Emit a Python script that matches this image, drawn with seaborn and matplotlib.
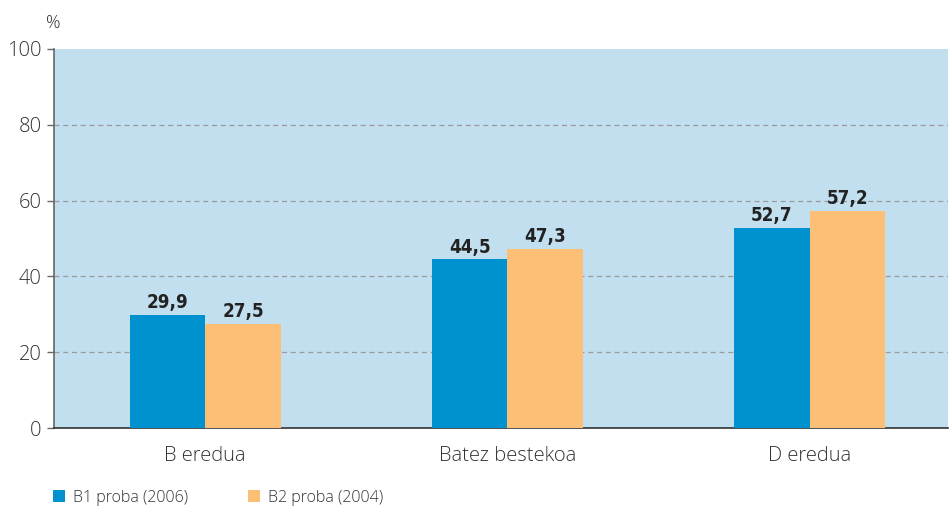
import pandas as pd
import seaborn as sns
import matplotlib.pyplot as plt
from matplotlib.patches import Patch
from matplotlib.ticker import FixedLocator

# --- Datuak ---
kategoriak = ["B eredua", "Batez bestekoa", "D eredua"]
b1_2006 = [29.9, 44.5, 52.7]
b2_2004 = [27.5, 47.3, 57.2]
serieak = ["B1 proba (2006)", "B2 proba (2004)"]
y_ticks = [0, 20, 40, 60, 80, 100]

df = pd.DataFrame({
    "kategoria": kategoriak * 2,
    "proba": [serieak[0]] * 3 + [serieak[1]] * 3,
    "balioa": b1_2006 + b2_2004,
})

sns.set_theme(style="white")
plt.rcParams['font.family'] = ['Open Sans', 'DejaVu Sans']

kolore = {serieak[0]: "#0092CF", serieak[1]: "#FDBE76"}

fig = plt.figure(figsize=(9.51, 5.07), dpi=100)
ax = fig.add_axes([0.0568, 0.1558, 0.94, 0.7476])
ax.set_facecolor("#C2DFF0")

sns.barplot(data=df, x="kategoria", y="balioa", hue="proba", palette=kolore,
            width=0.5, saturation=1, ax=ax, legend=False, zorder=3,
            linewidth=0, edgecolor="none")

ax.set_ylim(0, 100)
ax.set_xlim(-0.5, 2.457)
ax.set_yticks(y_ticks)
ax.set_yticklabels([str(v) for v in y_ticks], fontsize=14.5, color="#333333",
                   fontweight="light")
for v in y_ticks[1:-1]:
    ax.axhline(v, color="#9a9a9a", linestyle=(0, (4, 3)), linewidth=0.9, zorder=1)

ax.set_xticks(range(len(kategoriak)))
ax.set_xticklabels(kategoriak, fontsize=14.5, color="#333333", fontweight="light")
ax.tick_params(axis="x", which="major", length=0, pad=13)
ax.xaxis.set_minor_locator(FixedLocator([-0.5, 0.5, 1.5]))
ax.tick_params(axis="x", which="minor", length=6, width=1, color="#333333", direction="out")
ax.tick_params(axis="y", length=5, width=1, color="#666666", direction="out", left=True, pad=4)

ax.set_xlabel("")
ax.set_ylabel("")
for s in ["top", "right"]:
    ax.spines[s].set_visible(False)
ax.spines["left"].set_color("#666666")
ax.spines["bottom"].set_color("#333333")
ax.spines["left"].set_linewidth(1.2)
ax.spines["bottom"].set_linewidth(1.2)

# balioen etiketak
for cont in ax.containers:
    ax.bar_label(cont, labels=[f"{v:.1f}".replace(".", ",") for v in cont.datavalues],
                 padding=2, fontsize=13.5, fontweight="bold", color="#222222",
                 family=["DejaVu Sans"], fontstretch="condensed")

fig.text(0.048, 0.955, "%", fontsize=13, color="#333333", ha="left", va="center",
         fontweight="light")

handles = [Patch(facecolor=kolore[s], edgecolor="none") for s in serieak]
fig.legend(handles, serieak, loc="lower left", bbox_to_anchor=(0.041, -0.026), ncol=2,
           frameon=False, handlelength=0.75, handleheight=0.75,
           handletextpad=0.5, columnspacing=3.7, labelcolor="#333333",
           prop={"weight": "light", "size": 11.5})

plt.savefig("out.png", dpi=100)
plt.close()
